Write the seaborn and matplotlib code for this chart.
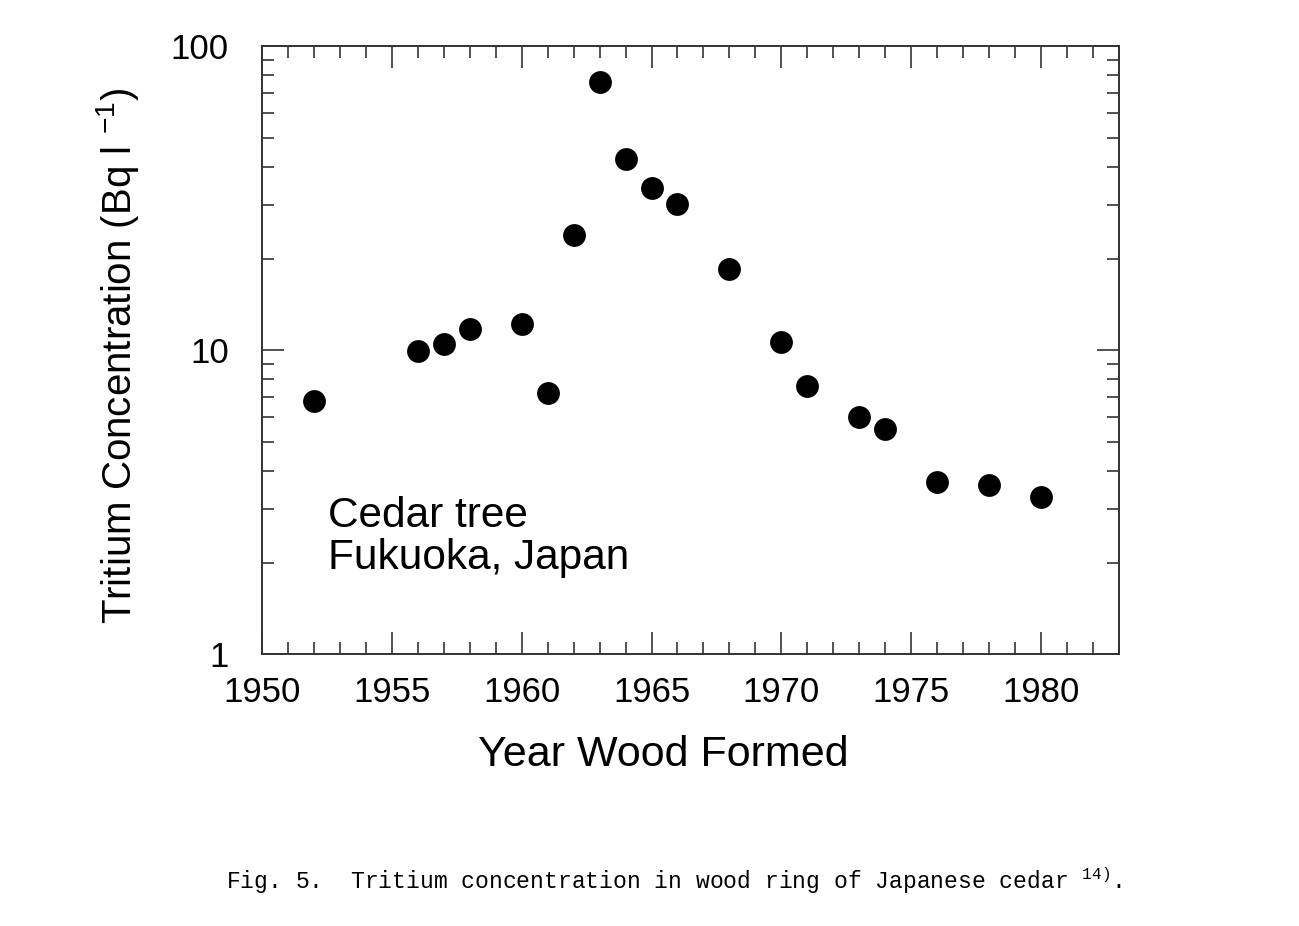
import matplotlib
matplotlib.use("Agg")
import matplotlib.pyplot as plt
import seaborn as sns
import pandas as pd
from matplotlib.ticker import MultipleLocator, LogLocator, NullFormatter, FixedLocator, FixedFormatter

years = [1952, 1956, 1957, 1958, 1960, 1961, 1962, 1963, 1964, 1965, 1966,
         1968, 1970, 1971, 1973, 1974, 1976, 1978, 1980]
tritium = [6.8, 9.9, 10.5, 11.7, 12.2, 7.2, 23.9, 76, 42.5, 34.1, 30.2,
           18.5, 10.6, 7.6, 6.0, 5.5, 3.68, 3.6, 3.28]
x_ticks = [1950, 1955, 1960, 1965, 1970, 1975, 1980]
y_ticks = [1, 10, 100]
y_tick_labels = ["1", "10", "100"]

df = pd.DataFrame({"year": years, "tritium": tritium})

sns.set_theme(style="white")
plt.rcParams['font.family'] = ['Liberation Sans', 'DejaVu Sans']

fig = plt.figure(figsize=(12.99, 9.26), dpi=100)
ax = fig.add_axes([0.2017, 0.2937, 0.6597, 0.6566])

sns.scatterplot(data=df, x="year", y="tritium", ax=ax, color="black",
                s=270, edgecolor="black", linewidth=0, legend=False, zorder=3)

ax.set_yscale("log")
ax.set_xlim(1950, 1983)
ax.set_ylim(1, 100)

ax.xaxis.set_major_locator(FixedLocator(x_ticks))
ax.xaxis.set_minor_locator(MultipleLocator(1))
ax.yaxis.set_major_locator(FixedLocator(y_ticks))
ax.yaxis.set_major_formatter(FixedFormatter(y_tick_labels))
ax.yaxis.set_minor_locator(LogLocator(base=10, subs=range(2, 10)))
ax.yaxis.set_minor_formatter(NullFormatter())

ax.tick_params(which="both", direction="in", top=True, right=True,
               bottom=True, left=True,
               color="#333333", labelsize=25, labelcolor="black")
ax.tick_params(which="major", length=16, width=1.2)
ax.tick_params(which="minor", length=8.5, width=1.2)
ax.tick_params(axis="x", which="major", pad=16)
ax.tick_params(axis="y", which="major", pad=24)

for sp in ax.spines.values():
    sp.set_color("#333333")
    sp.set_linewidth(1.4)

ax.set_xlabel("Year Wood Formed", fontsize=31, color="black")
ax.xaxis.set_label_coords((663 - 262) / 857, (654 - 755) / 608)
ax.xaxis.label.set_va("center")
ax.set_ylabel("Tritium Concentration (Bq l $^{\\mathregular{-1}}$)", fontsize=29,
              color="black")
ax.yaxis.set_label_coords((117 - 262) / 857, (654 - 356) / 608)
ax.yaxis.label.set_va("center")

ax.text(0.077, 0.26, "Cedar tree\nFukuoka, Japan", transform=ax.transAxes,
        fontsize=30.5, color="black", va="top", ha="left", linespacing=1.06)

fig.text(0.174, 0.040, "Fig. 5.  Tritium concentration in wood ring of Japanese cedar $^{\\mathregular{14)}}$.",
         fontsize=16.6, family=["Liberation Mono", "DejaVu Sans Mono"], color="black",
         ha="left", va="baseline")

fig.savefig("out.png", dpi=100, facecolor="white")
